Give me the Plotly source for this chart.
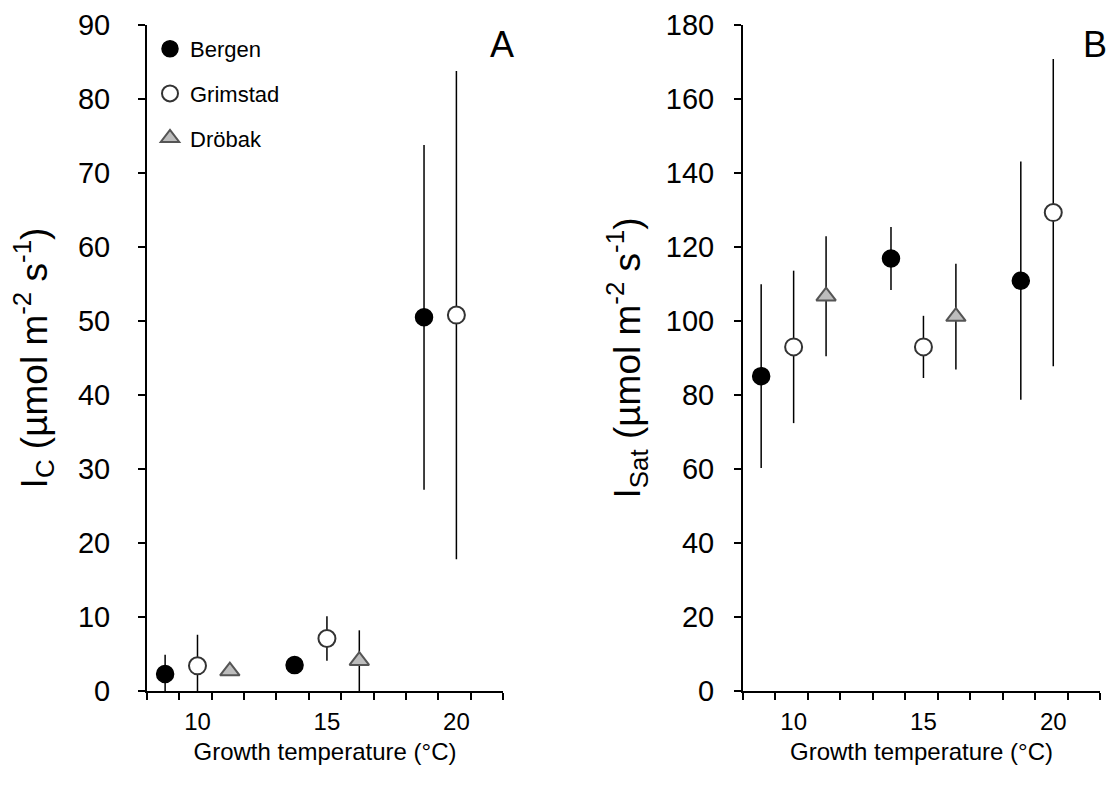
import plotly.graph_objects as go

# ---- data ----
sites = ["Bergen", "Grimstad", "Dröbak"]
temps = {
    "Bergen": [8.75, 13.75, 18.75],
    "Grimstad": [10.0, 15.0, 20.0],
    "Dröbak": [11.25, 16.25],
}
ic_mean = {
    "Bergen": [2.3, 3.5, 50.5],
    "Grimstad": [3.4, 7.1, 50.8],
    "Dröbak": [2.7, 4.1],
}
ic_err = {
    "Bergen": [2.6, 0.4, 23.3],
    "Grimstad": [4.2, 3.0, 33.0],
    "Dröbak": [0.4, 4.1],
}
isat_mean = {
    "Bergen": [85.1, 116.9, 110.9],
    "Grimstad": [93.0, 93.0, 129.3],
    "Dröbak": [106.7, 101.2],
}
isat_err = {
    "Bergen": [24.8, 8.5, 32.2],
    "Grimstad": [20.6, 8.4, 41.5],
    "Dröbak": [16.2, 14.3],
}
x_ticks = [10, 15, 20]
ic_ticks = [0, 10, 20, 30, 40, 50, 60, 70, 80, 90]
isat_ticks = [0, 20, 40, 60, 80, 100, 120, 140, 160, 180]

styles = {
    "Bergen": dict(symbol="circle", color="black", line=dict(color="black", width=1.5), size=17),
    "Grimstad": dict(symbol="circle", color="white", line=dict(color="#333333", width=2), size=17),
    "Dröbak": dict(symbol="triangle-up", color="#bdbdbd", line=dict(color="#555555", width=2), size=17),
}

FONT = "Liberation Sans, Arial, sans-serif"

fig = go.Figure()
for i, s in enumerate(sites):
    fig.add_trace(go.Scatter(
        x=temps[s], y=ic_mean[s], mode="markers", name=s,
        marker=styles[s],
        error_y=dict(type="data", array=ic_err[s], visible=True,
                     color="black", thickness=1.5, width=0),
        xaxis="x", yaxis="y", legendgroup=s, showlegend=True,
    ))
    fig.add_trace(go.Scatter(
        x=temps[s], y=isat_mean[s], mode="markers", name=s,
        marker=styles[s],
        error_y=dict(type="data", array=isat_err[s], visible=True,
                     color="black", thickness=1.5, width=0),
        xaxis="x2", yaxis="y2", legendgroup=s, showlegend=False,
    ))

# page body has an 8px margin -> figure drawn at (8, 8)
OFF = 8
W = 1115.0 - 2 * OFF
H = 785.0 - 2 * OFF


def px_x(x):
    return (x - OFF) / W


def px_y(y):
    return 1 - (y - OFF) / H


ydom = [px_y(691), px_y(25)]

common_x = dict(
    range=[8.05, 21.8], tickmode="array", tickvals=x_ticks,
    ticks="", showline=True, linecolor="black", linewidth=2,
    showgrid=False, zeroline=False, automargin=False,
    tickfont=dict(size=24, color="black", family=FONT),
    ticklabelstandoff=8,
    minor=dict(tickmode="linear", tick0=8.05, dtick=1.25, ticks="outside",
               ticklen=7, tickwidth=2, tickcolor="black", showgrid=False),
    title=dict(text="Growth temperature (°C)", font=dict(size=24, color="black", family=FONT), standoff=9),
)
common_y = dict(
    ticks="outside", ticklen=7, tickwidth=2, tickcolor="black",
    showline=True, linecolor="black", linewidth=2,
    showgrid=False, zeroline=False, automargin=False,
    tickfont=dict(size=29, color="black", family=FONT),
)

fig.update_layout(
    width=int(W), height=int(H),
    margin=dict(l=0, r=0, t=0, b=0),
    paper_bgcolor="white", plot_bgcolor="white",
    font=dict(family=FONT, color="black"),
    xaxis=dict(domain=[px_x(147), px_x(503)], anchor="y", **common_x),
    xaxis2=dict(domain=[px_x(743), px_x(1100)], anchor="y2", **common_x),
    yaxis=dict(domain=ydom, anchor="x", range=[0, 90], tickmode="array", tickvals=ic_ticks,
               ticklabelstandoff=22,
               title=dict(text="I<sub>C</sub> (µmol m<sup>-2</sup> s<sup>-1</sup>)",
                          font=dict(size=37, color="black", family=FONT), standoff=32),
               **common_y),
    yaxis2=dict(domain=ydom, anchor="x2", range=[0, 180], tickmode="array", tickvals=isat_ticks,
                ticklabelstandoff=14,
                title=dict(text="I<sub>Sat</sub> (µmol m<sup>-2</sup> s<sup>-1</sup>)",
                           font=dict(size=37, color="black", family=FONT), standoff=14),
                **common_y),
    legend=dict(x=px_x(150), y=px_y(28), xanchor="left", yanchor="top",
                font=dict(size=22, color="black", family=FONT),
                bgcolor="rgba(0,0,0,0)", tracegroupgap=13, itemsizing="trace"),
    showlegend=True,
    annotations=[
        dict(text="A", x=px_x(502), y=px_y(45), xref="paper", yref="paper",
             xanchor="center", yanchor="middle",
             showarrow=False, font=dict(size=36, color="black", family=FONT)),
        dict(text="B", x=px_x(1095), y=px_y(45), xref="paper", yref="paper",
             xanchor="center", yanchor="middle",
             showarrow=False, font=dict(size=36, color="black", family=FONT)),
    ],
)

fig.write_html("out.html")
